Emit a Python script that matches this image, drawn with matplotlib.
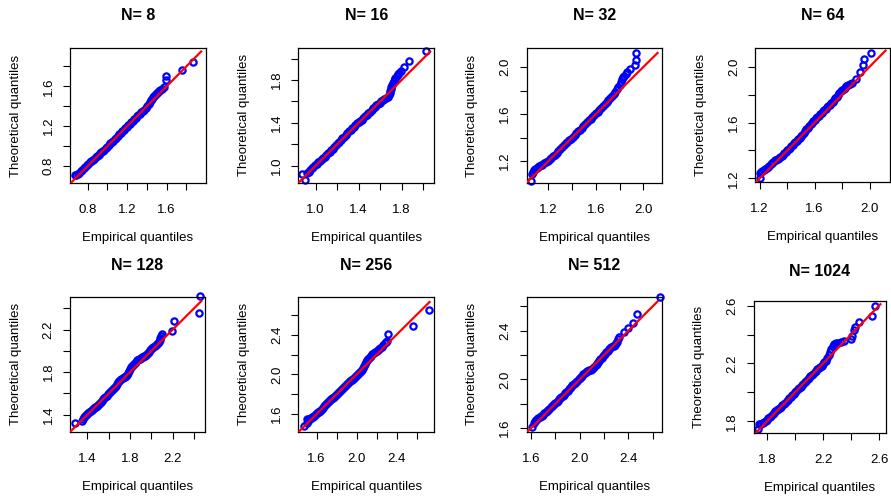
import matplotlib
matplotlib.use("Agg")
import matplotlib.pyplot as plt

plt.rcParams['font.family'] = ['Liberation Sans', 'DejaVu Sans']

W, H = 891, 498

titles = ["N= 8", "N= 16", "N= 32", "N= 64", "N= 128", "N= 256", "N= 512", "N= 1024"]

# empirical (x) and theoretical (y) quantiles (main track)
emp_8 = [0.672, 0.70, 0.73, 0.76, 0.79, 0.82, 0.85, 0.88, 0.91, 0.94, 0.97, 1.00, 1.03, 1.06, 1.09,
         1.12, 1.15, 1.18, 1.21, 1.24, 1.27, 1.30, 1.33, 1.36, 1.39, 1.42, 1.44, 1.46, 1.48, 1.50,
         1.52, 1.55, 1.57, 1.59, 1.59, 1.753, 1.864]
theo_8 = [0.706, 0.72, 0.745, 0.775, 0.81, 0.835, 0.86, 0.89, 0.915, 0.94, 0.965, 0.995, 1.03, 1.055,
          1.085, 1.12, 1.15, 1.18, 1.21, 1.24, 1.27, 1.30, 1.325, 1.35, 1.38, 1.42, 1.46, 1.49, 1.51,
          1.53, 1.55, 1.57, 1.59, 1.666, 1.70, 1.76, 1.843]

emp_16 = [0.876, 0.90, 0.92, 0.95, 0.98, 1.01, 1.04, 1.07, 1.10, 1.13, 1.16, 1.19, 1.22, 1.25, 1.28,
          1.31, 1.34, 1.37, 1.40, 1.43, 1.46, 1.49, 1.52, 1.55, 1.58, 1.61, 1.64, 1.67, 1.69, 1.70,
          1.71, 1.73, 1.74, 1.77, 1.79, 1.825, 1.87, 2.03]
theo_16 = [0.922, 0.866, 0.93, 0.96, 0.99, 1.02, 1.045, 1.07, 1.10, 1.13, 1.16, 1.19, 1.225, 1.255,
           1.285, 1.32, 1.35, 1.38, 1.41, 1.43, 1.46, 1.49, 1.52, 1.55, 1.575, 1.60, 1.62, 1.64,
           1.68, 1.72, 1.754, 1.79, 1.82, 1.86, 1.88, 1.925, 1.978, 2.075]

emp_32 = [1.054, 1.06, 1.08, 1.10, 1.12, 1.15, 1.18, 1.21, 1.24, 1.27, 1.30, 1.33, 1.36, 1.39, 1.42,
          1.45, 1.48, 1.51, 1.54, 1.57, 1.60, 1.63, 1.66, 1.69, 1.72, 1.75, 1.78, 1.80, 1.817, 1.84,
          1.86, 1.89, 1.93, 1.94, 1.94]
theo_32 = [1.03, 1.09, 1.12, 1.14, 1.155, 1.17, 1.19, 1.215, 1.24, 1.27, 1.30, 1.335, 1.365, 1.39,
           1.42, 1.455, 1.48, 1.515, 1.545, 1.575, 1.605, 1.635, 1.665, 1.70, 1.735, 1.77, 1.81,
           1.85, 1.90, 1.925, 1.957, 1.986, 2.02, 2.06, 2.12]

emp_64 = [1.20, 1.20, 1.22, 1.24, 1.26, 1.28, 1.30, 1.32, 1.34, 1.36, 1.38, 1.40, 1.42, 1.44, 1.46,
          1.48, 1.50, 1.52, 1.54, 1.56, 1.58, 1.60, 1.62, 1.64, 1.66, 1.68, 1.70, 1.72, 1.74, 1.76,
          1.78, 1.80, 1.82, 1.84, 1.87, 1.90, 1.93, 1.95, 1.96, 2.01]
theo_64 = [1.20, 1.236, 1.25, 1.265, 1.28, 1.30, 1.32, 1.335, 1.345, 1.36, 1.38, 1.40, 1.42, 1.44,
           1.46, 1.48, 1.50, 1.525, 1.55, 1.575, 1.60, 1.62, 1.64, 1.66, 1.68, 1.70, 1.715, 1.74,
           1.76, 1.785, 1.81, 1.835, 1.85, 1.87, 1.885, 1.91, 1.96, 2.01, 2.055, 2.10]

emp_128 = [1.284, 1.347, 1.36, 1.38, 1.40, 1.42, 1.44, 1.46, 1.48, 1.50, 1.52, 1.54, 1.56, 1.58, 1.60,
           1.62, 1.64, 1.66, 1.68, 1.70, 1.72, 1.74, 1.76, 1.78, 1.80, 1.82, 1.84, 1.86, 1.88, 1.90,
           1.92, 1.94, 1.96, 1.98, 2.00, 2.02, 2.04, 2.06, 2.08, 2.09, 2.10, 2.19, 2.21, 2.45, 2.456]
theo_128 = [1.322, 1.344, 1.36, 1.39, 1.41, 1.43, 1.445, 1.46, 1.475, 1.49, 1.51, 1.53, 1.555, 1.58,
            1.60, 1.62, 1.64, 1.66, 1.685, 1.72, 1.74, 1.75, 1.765, 1.79, 1.83, 1.86, 1.88, 1.90,
            1.92, 1.935, 1.945, 1.955, 1.97, 1.99, 2.02, 2.04, 2.06, 2.07, 2.10, 2.14, 2.155, 2.19,
            2.285, 2.357, 2.52]

emp_256 = [1.473, 1.50, 1.50, 1.52, 1.54, 1.56, 1.58, 1.60, 1.62, 1.64, 1.66, 1.68, 1.70, 1.72, 1.74,
           1.76, 1.78, 1.80, 1.82, 1.84, 1.86, 1.88, 1.90, 1.92, 1.94, 1.96, 1.98, 2.00, 2.02, 2.04,
           2.06, 2.08, 2.10, 2.12, 2.14, 2.17, 2.20, 2.22, 2.25, 2.28, 2.30, 2.317, 2.56, 2.723]
theo_256 = [1.482, 1.55, 1.51, 1.545, 1.56, 1.575, 1.59, 1.607, 1.625, 1.645, 1.665, 1.69, 1.71, 1.73,
            1.75, 1.765, 1.785, 1.80, 1.82, 1.84, 1.86, 1.88, 1.90, 1.92, 1.94, 1.955, 1.975, 1.993,
            2.01, 2.03, 2.06, 2.10, 2.14, 2.17, 2.19, 2.22, 2.235, 2.255, 2.28, 2.315, 2.34, 2.407,
            2.484, 2.652]

emp_512 = [1.605, 1.62, 1.633, 1.65, 1.67, 1.69, 1.71, 1.73, 1.75, 1.77, 1.79, 1.81, 1.83, 1.85, 1.87,
           1.89, 1.91, 1.93, 1.95, 1.97, 1.99, 2.01, 2.03, 2.05, 2.07, 2.09, 2.11, 2.13, 2.15, 2.17,
           2.19, 2.21, 2.23, 2.25, 2.27, 2.29, 2.31, 2.326, 2.367, 2.40, 2.44, 2.474, 2.66]
theo_512 = [1.605, 1.64, 1.66, 1.675, 1.69, 1.70, 1.72, 1.74, 1.76, 1.78, 1.80, 1.815, 1.835, 1.855,
            1.875, 1.895, 1.92, 1.94, 1.96, 1.98, 2.00, 2.02, 2.04, 2.06, 2.07, 2.08, 2.095, 2.115,
            2.14, 2.165, 2.19, 2.21, 2.235, 2.26, 2.27, 2.285, 2.31, 2.345, 2.386, 2.42, 2.463,
            2.537, 2.68]

emp_1024 = [1.736, 1.74, 1.76, 1.78, 1.80, 1.82, 1.84, 1.86, 1.88, 1.90, 1.92, 1.94, 1.96, 1.98, 2.00,
            2.02, 2.04, 2.06, 2.08, 2.10, 2.12, 2.14, 2.16, 2.18, 2.20, 2.22, 2.24, 2.255, 2.28, 2.31,
            2.35, 2.40, 2.41, 2.42, 2.43, 2.457, 2.55, 2.574]
theo_1024 = [1.747, 1.78, 1.78, 1.795, 1.81, 1.83, 1.85, 1.87, 1.885, 1.90, 1.92, 1.94, 1.96, 1.98,
             2.00, 2.02, 2.04, 2.06, 2.08, 2.10, 2.12, 2.14, 2.16, 2.175, 2.195, 2.22, 2.26, 2.30,
             2.333, 2.345, 2.357, 2.37, 2.39, 2.43, 2.45, 2.49, 2.525, 2.597]

# further points read in between, where the band is solid
emp_8b = [0.686, 0.715, 0.745, 0.775, 0.805, 0.835, 0.865, 0.895, 0.925, 0.955, 0.985, 1.015, 1.045,
          1.075, 1.105, 1.135, 1.165, 1.195, 1.225, 1.255, 1.285, 1.315, 1.345, 1.375, 1.405, 1.43,
          1.45, 1.47, 1.49, 1.51, 1.535]
theo_8b = [0.713, 0.733, 0.76, 0.793, 0.823, 0.848, 0.875, 0.903, 0.928, 0.953, 0.98, 1.013, 1.043,
           1.07, 1.103, 1.135, 1.165, 1.195, 1.225, 1.255, 1.285, 1.313, 1.338, 1.365, 1.40, 1.44,
           1.475, 1.50, 1.52, 1.54, 1.56]

emp_16b = [0.935, 0.965, 0.995, 1.025, 1.055, 1.085, 1.115, 1.145, 1.175, 1.205, 1.235, 1.265, 1.295,
           1.325, 1.355, 1.385, 1.415, 1.445, 1.475, 1.505, 1.535, 1.565, 1.595, 1.625, 1.655, 1.68,
           1.695, 1.705, 1.72, 1.735, 1.755, 1.78]
theo_16b = [0.945, 0.975, 1.005, 1.033, 1.058, 1.085, 1.115, 1.145, 1.175, 1.208, 1.24, 1.27, 1.303,
            1.335, 1.365, 1.395, 1.42, 1.445, 1.475, 1.505, 1.535, 1.563, 1.588, 1.61, 1.63, 1.66,
            1.70, 1.737, 1.772, 1.805, 1.84, 1.87]

emp_32b = [1.07, 1.09, 1.11, 1.135, 1.165, 1.195, 1.225, 1.255, 1.285, 1.315, 1.345, 1.375, 1.405,
           1.435, 1.465, 1.495, 1.525, 1.555, 1.585, 1.615, 1.645, 1.675, 1.705, 1.735, 1.765, 1.79,
           1.808, 1.828, 1.85]
theo_32b = [1.105, 1.13, 1.148, 1.162, 1.18, 1.203, 1.228, 1.255, 1.285, 1.318, 1.35, 1.378, 1.405,
            1.438, 1.468, 1.498, 1.53, 1.56, 1.59, 1.62, 1.65, 1.683, 1.718, 1.753, 1.79, 1.83,
            1.875, 1.912, 1.94]

emp_64b = [1.21, 1.23, 1.25, 1.27, 1.29, 1.31, 1.33, 1.35, 1.37, 1.39, 1.41, 1.43, 1.45, 1.47, 1.49,
           1.51, 1.53, 1.55, 1.57, 1.59, 1.61, 1.63, 1.65, 1.67, 1.69, 1.71, 1.73, 1.75, 1.77, 1.79,
           1.81, 1.83, 1.855]
theo_64b = [1.243, 1.258, 1.273, 1.29, 1.31, 1.328, 1.34, 1.353, 1.37, 1.39, 1.41, 1.43, 1.45, 1.47,
            1.49, 1.513, 1.538, 1.563, 1.588, 1.61, 1.63, 1.65, 1.67, 1.69, 1.708, 1.728, 1.75,
            1.773, 1.798, 1.823, 1.843, 1.86, 1.878]

emp_128b = [1.37, 1.39, 1.41, 1.43, 1.45, 1.47, 1.49, 1.51, 1.53, 1.55, 1.57, 1.59, 1.61, 1.63, 1.65,
            1.67, 1.69, 1.71, 1.73, 1.75, 1.77, 1.79, 1.81, 1.83, 1.85, 1.87, 1.89, 1.91, 1.93, 1.95,
            1.97, 1.99, 2.01, 2.03, 2.05, 2.07, 2.085]
theo_128b = [1.375, 1.40, 1.42, 1.438, 1.453, 1.468, 1.483, 1.50, 1.52, 1.543, 1.568, 1.59, 1.61,
             1.63, 1.65, 1.673, 1.703, 1.73, 1.745, 1.758, 1.778, 1.81, 1.845, 1.87, 1.89, 1.91,
             1.928, 1.94, 1.95, 1.963, 1.98, 2.005, 2.03, 2.05, 2.065, 2.085, 2.12]

emp_256b = [1.51, 1.53, 1.55, 1.57, 1.59, 1.61, 1.63, 1.65, 1.67, 1.69, 1.71, 1.73, 1.75, 1.77, 1.79,
            1.81, 1.83, 1.85, 1.87, 1.89, 1.91, 1.93, 1.95, 1.97, 1.99, 2.01, 2.03, 2.05, 2.07, 2.09,
            2.11, 2.13, 2.155, 2.185, 2.21, 2.235, 2.265, 2.29]
theo_256b = [1.528, 1.553, 1.568, 1.583, 1.598, 1.616, 1.635, 1.655, 1.678, 1.70, 1.72, 1.74, 1.758,
             1.775, 1.793, 1.81, 1.83, 1.85, 1.87, 1.89, 1.91, 1.93, 1.948, 1.965, 1.984, 2.002,
             2.02, 2.045, 2.08, 2.12, 2.155, 2.18, 2.205, 2.228, 2.245, 2.268, 2.298, 2.328]

emp_512b = [1.64, 1.66, 1.68, 1.70, 1.72, 1.74, 1.76, 1.78, 1.80, 1.82, 1.84, 1.86, 1.88, 1.90, 1.92,
            1.94, 1.96, 1.98, 2.00, 2.02, 2.04, 2.06, 2.08, 2.10, 2.12, 2.14, 2.16, 2.18, 2.20, 2.22,
            2.24, 2.26, 2.28, 2.30, 2.318]
theo_512b = [1.668, 1.683, 1.695, 1.71, 1.73, 1.75, 1.77, 1.79, 1.808, 1.825, 1.845, 1.865, 1.885,
             1.908, 1.93, 1.95, 1.97, 1.99, 2.01, 2.03, 2.05, 2.065, 2.075, 2.088, 2.105, 2.128,
             2.153, 2.178, 2.20, 2.223, 2.248, 2.265, 2.278, 2.298, 2.328]

emp_1024b = [1.75, 1.77, 1.79, 1.81, 1.83, 1.85, 1.87, 1.89, 1.91, 1.93, 1.95, 1.97, 1.99, 2.01, 2.03,
             2.05, 2.07, 2.09, 2.11, 2.13, 2.15, 2.17, 2.19, 2.21, 2.23, 2.248, 2.268, 2.295, 2.33]
theo_1024b = [1.78, 1.788, 1.803, 1.82, 1.84, 1.86, 1.878, 1.893, 1.91, 1.93, 1.95, 1.97, 1.99, 2.01,
              2.03, 2.05, 2.07, 2.09, 2.11, 2.13, 2.15, 2.168, 2.185, 2.208, 2.24, 2.28, 2.318, 2.34,
              2.35]

emp = [emp_8, emp_16, emp_32, emp_64, emp_128, emp_256, emp_512, emp_1024]
theo = [theo_8, theo_16, theo_32, theo_64, theo_128, theo_256, theo_512, theo_1024]
emp_b = [emp_8b, emp_16b, emp_32b, emp_64b, emp_128b, emp_256b, emp_512b, emp_1024b]
theo_b = [theo_8b, theo_16b, theo_32b, theo_64b, theo_128b, theo_256b, theo_512b, theo_1024b]

# reference line y = x, drawn between these ends
line_ends = [(0.62, 1.95), (0.84, 2.065), (1.015, 2.12), (1.17, 2.115),
             (1.24, 2.47), (1.42, 2.73), (1.565, 2.64), (1.71, 2.61)]

xlims = [(0.621, 1.999), (0.839, 2.104), (1.017, 2.16), (1.168, 2.148),
         (1.2375, 2.503), (1.417, 2.777), (1.564, 2.679), (1.705, 2.652)]
ylims = [(0.629, 1.985), (0.841, 2.102), (1.013, 2.162), (1.176, 2.136),
         (1.24, 2.51), (1.422, 2.783), (1.57, 2.679), (1.717, 2.63)]

tick_pos = [[0.8, 1.0, 1.2, 1.4, 1.6, 1.8],
            [1.0, 1.2, 1.4, 1.6, 1.8, 2.0],
            [1.2, 1.4, 1.6, 1.8, 2.0],
            [1.2, 1.4, 1.6, 1.8, 2.0],
            [1.4, 1.6, 1.8, 2.0, 2.2, 2.4],
            [1.6, 1.8, 2.0, 2.2, 2.4, 2.6],
            [1.6, 1.8, 2.0, 2.2, 2.4, 2.6],
            [1.8, 2.0, 2.2, 2.4, 2.6]]
tick_lab = [["0.8", "", "1.2", "", "1.6", ""],
            ["1.0", "", "1.4", "", "1.8", ""],
            ["1.2", "", "1.6", "", "2.0"],
            ["1.2", "", "1.6", "", "2.0"],
            ["1.4", "", "1.8", "", "2.2", ""],
            ["1.6", "", "2.0", "", "2.4", ""],
            ["1.6", "", "2.0", "", "2.4", ""],
            ["1.8", "", "2.2", "", "2.6"]]

# axes boxes in pixels: left, top, right, bottom
boxes = [(70, 48, 206, 183), (298.3, 47.7, 434.3, 182.7), (526.7, 48, 662.3, 183), (755.3, 47.7, 890, 181.7),
         (70, 296.7, 205, 431.7), (298.3, 296.7, 434.3, 431.7), (526.7, 296.7, 662.3, 431.7),
         (753.7, 301.3, 886.3, 433.3)]
title_y = [15, 15, 15, 15, 265, 265, 265, 271]

fig = plt.figure(figsize=(W / 100, H / 100), dpi=100)
fs = 9.5
mk = dict(linestyle='none', marker='o', markersize=4.5, markerfacecolor='none',
          markeredgecolor='#0000FF', markeredgewidth=1.6, clip_on=False, zorder=2)
for i in range(8):
    l, t, r, b = boxes[i]
    ax = fig.add_axes([l / W, 1 - b / H, (r - l) / W, (b - t) / H])
    ax.plot(emp_b[i], theo_b[i], **mk)
    ax.plot(emp[i], theo[i], **mk)
    lo, hi = line_ends[i]
    ax.plot([lo, hi], [lo, hi], color='#FF0000', linewidth=1.6, zorder=3)
    ax.set_xlim(*xlims[i])
    ax.set_ylim(*ylims[i])
    ax.set_xticks(tick_pos[i])
    ax.set_xticklabels(tick_lab[i], fontsize=fs)
    ax.set_yticks(tick_pos[i])
    ax.set_yticklabels(tick_lab[i], fontsize=fs, rotation=90, va='center')
    ax.tick_params(direction='out', length=5, width=0.8)
    ax.tick_params(axis='x', pad=10)
    ax.tick_params(axis='y', pad=6)
    for s in ax.spines.values():
        s.set_linewidth(0.9)
    ax.set_xlabel("Empirical quantiles", fontsize=fs)
    ax.set_ylabel("Theoretical quantiles", fontsize=fs)
    h = b - t
    w = r - l
    ax.xaxis.set_label_coords(0.5, -(238 - 183) / h)
    ax.xaxis.label.set_va('center')
    ax.yaxis.set_label_coords(-(70 - 15.7) / w, 0.5)
    ax.yaxis.label.set_va('center')
    fig.text((l + r) / 2 / W, 1 - title_y[i] / H, titles[i], fontsize=11.5, fontweight='bold',
             ha='center', va='center')

fig.savefig("out.png", dpi=100)
